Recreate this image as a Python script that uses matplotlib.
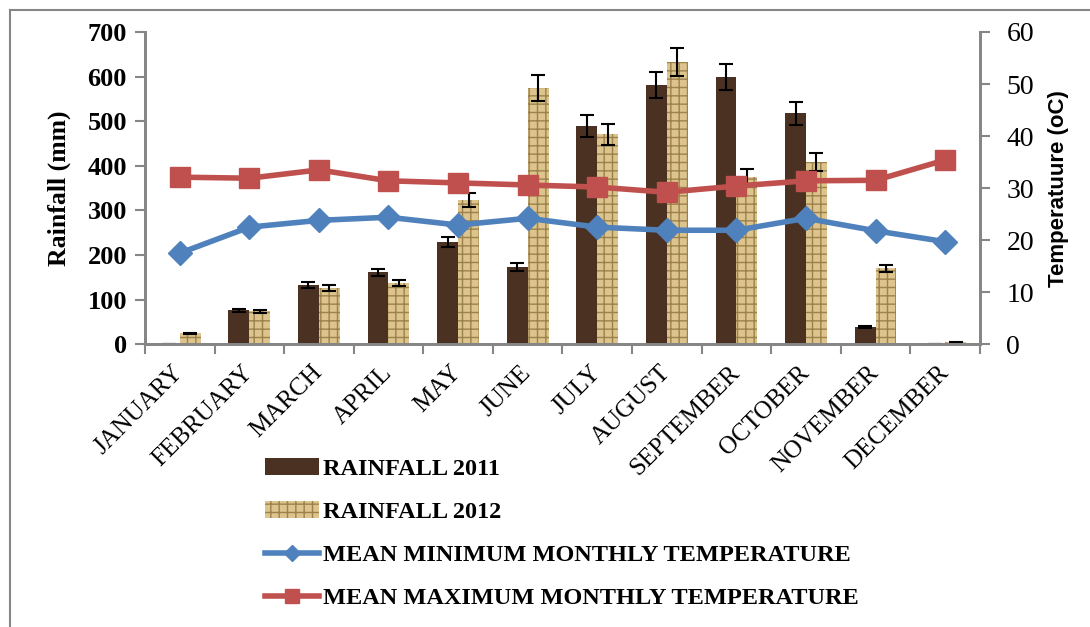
import numpy as np
import matplotlib
matplotlib.use('Agg')
import matplotlib.pyplot as plt
from matplotlib.lines import Line2D

months = ['JANUARY', 'FEBRUARY', 'MARCH', 'APRIL', 'MAY', 'JUNE', 'JULY',
          'AUGUST', 'SEPTEMBER', 'OCTOBER', 'NOVEMBER', 'DECEMBER']
rain_2011 = [0, 76, 132, 161, 229, 173, 489, 581, 599, 518, 38, 0]
rain_2012 = [25, 74, 126, 137, 323, 574, 471, 633, 375, 408, 170, 4]
t_min = [17.5, 22.5, 23.8, 24.4, 22.9, 24.2, 22.5, 21.9, 21.9, 24.2, 21.8, 19.7]
t_max = [32.1, 31.9, 33.5, 31.4, 31.0, 30.6, 30.2, 29.2, 30.4, 31.4, 31.5, 35.4]

serif = 'Liberation Serif'
grey = '#868686'

fig = plt.figure(figsize=(10.9, 6.27), dpi=100)
ax = fig.add_axes([0.133, 0.451, 0.766, 0.498])
ax2 = ax.twinx()

x = np.arange(len(months))
w = 0.3
err11 = [v * 0.05 for v in rain_2011]
err12 = [v * 0.05 for v in rain_2012]
ekw = dict(ecolor='black', capsize=5, elinewidth=1.5, capthick=1.5)
b1 = ax.bar(x - w / 2, rain_2011, w, color='#4a3122', linewidth=0,
            yerr=err11, error_kw=ekw)
b2 = ax.bar(x + w / 2, rain_2012, w, color='#dcc48c', edgecolor='#9c814d',
            hatch='++', linewidth=0, yerr=err12, error_kw=ekw)

l1, = ax2.plot(x, t_min, color='#4f81bd', lw=4, marker='D', ms=12)
l2, = ax2.plot(x, t_max, color='#c0504d', lw=4, marker='s', ms=14)

ax.set_xlim(-0.5, 11.5)
ax.set_ylim(0, 700)
ax2.set_ylim(0, 60)
ax.set_yticks(range(0, 701, 100))
ax2.set_yticks(range(0, 61, 10))

for a in (ax, ax2):
    for s in a.spines.values():
        s.set_color(grey)
        s.set_linewidth(2)
    a.spines['top'].set_visible(False)

ax.set_xticks(x)
ax.set_xticks(np.arange(-0.5, 12, 1), minor=True)
ax.tick_params(axis='x', which='major', length=0, pad=18)
ax.tick_params(axis='x', which='minor', length=7, width=1.5, color=grey)
ax.set_xticklabels(months, rotation=45, ha='right', va='center',
                   rotation_mode='anchor', fontfamily=serif, fontsize=18)
ax.tick_params(axis='y', length=7, width=1.5, color=grey, pad=6)
ax2.tick_params(axis='y', length=7, width=1.5, color=grey, pad=12)
for t in ax.get_yticklabels():
    t.set_fontfamily(serif)
    t.set_fontweight('bold')
    t.set_fontsize(19)
for t in ax2.get_yticklabels():
    t.set_fontfamily(serif)
    t.set_fontsize(20)

ax.set_ylabel('Rainfall (mm)', fontfamily=serif, fontweight='bold', fontsize=18.5, labelpad=12)
ax2.set_ylabel('Temperatuure (oC)', fontfamily='Liberation Sans', fontweight='bold',
               fontsize=16, labelpad=10)

fig.legend([b1, b2, l1, l2],
           ['RAINFALL 2011', 'RAINFALL 2012', 'MEAN MINIMUM MONTHLY TEMPERATURE',
            'MEAN MAXIMUM MONTHLY TEMPERATURE'],
           loc='upper left', bbox_to_anchor=(0.232, 0.289), frameon=False,
           prop=dict(family=serif, weight='bold', size=17.5), labelspacing=0.87,
           handlelength=2.2, handletextpad=0.2, borderpad=0, markerscale=0.7)

fig.add_artist(Line2D([10 / 1090, 1], [1 - 10 / 627, 1 - 10 / 627], color=grey, lw=1.5))
fig.add_artist(Line2D([10 / 1090, 10 / 1090], [0, 1 - 10 / 627], color=grey, lw=1.5))

fig.savefig('out.png', dpi=100)
